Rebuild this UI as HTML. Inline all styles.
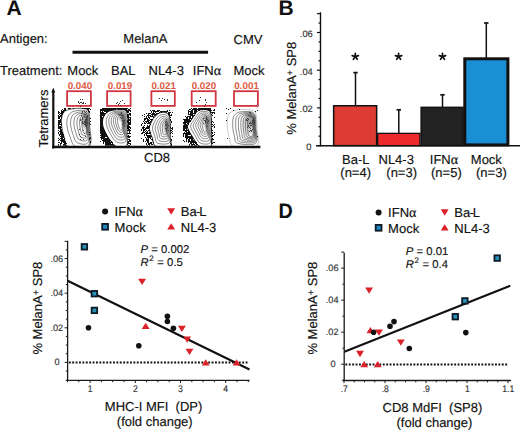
<!DOCTYPE html>
<html><head><meta charset="utf-8"><style>
html,body{margin:0;padding:0;background:#fff;width:520px;height:430px;overflow:hidden}
svg{display:block;font-family:"Liberation Sans", sans-serif;text-rendering:geometricPrecision}
</style></head><body>
<svg width="520" height="430" viewBox="0 0 520 430">
<defs><radialGradient id="rg"><stop offset="0" stop-color="#222" stop-opacity="1"/><stop offset="0.6" stop-color="#444" stop-opacity="0.6"/><stop offset="1" stop-color="#666" stop-opacity="0"/></radialGradient></defs>
<rect width="520" height="430" fill="#fff"/>
<text x="6.4" y="14.5" font-size="21" text-anchor="start" font-weight="bold" fill="#111" >A</text>
<text x="278.6" y="14.5" font-size="21" text-anchor="start" font-weight="bold" fill="#111" >B</text>
<text transform="translate(6.6,217.7) scale(0.94,1)" font-size="21" font-weight="bold" fill="#111">C</text>
<text transform="translate(278.6,217.5) scale(0.94,1)" font-size="21" font-weight="bold" fill="#111">D</text>
<text x="0" y="42.9" font-size="13" text-anchor="start" font-weight="normal" fill="#111" stroke="#111" stroke-width="0.15">Antigen:</text>
<text x="123.3" y="43.3" font-size="13" text-anchor="start" font-weight="normal" fill="#111" stroke="#111" stroke-width="0.15">MelanA</text>
<text x="233.5" y="43.8" font-size="13" text-anchor="start" font-weight="normal" fill="#111" stroke="#111" stroke-width="0.15">CMV</text>
<line x1="72.5" y1="52.2" x2="208.1" y2="52.2" stroke="#111" stroke-width="3" />
<text x="0" y="74.8" font-size="13" text-anchor="start" font-weight="normal" fill="#111" stroke="#111" stroke-width="0.15">Treatment:</text>
<text x="67.3" y="74.6" font-size="13" text-anchor="start" font-weight="normal" fill="#111" stroke="#111" stroke-width="0.15">Mock</text>
<text x="111" y="74.6" font-size="13" text-anchor="start" font-weight="normal" fill="#111" stroke="#111" stroke-width="0.15">BAL</text>
<text x="148.5" y="74.6" font-size="13" text-anchor="start" font-weight="normal" fill="#111" stroke="#111" stroke-width="0.15">NL4-3</text>
<text x="192.8" y="74.6" font-size="13" text-anchor="start" font-weight="normal" fill="#111" stroke="#111" stroke-width="0.15">IFN<tspan font-family="Liberation Serif" font-size="14">&#945;</tspan></text>
<text x="233.5" y="74.6" font-size="13" text-anchor="start" font-weight="normal" fill="#111" stroke="#111" stroke-width="0.15">Mock</text>
<text x="79.9" y="89.0" font-size="9.8" text-anchor="middle" font-weight="bold" fill="#dc5a42" >0.040</text>
<rect x="67.10000000000001" y="91.2" width="23.799999999999994" height="14.7" fill="none" stroke="#d03640" stroke-width="1.8"/>
<text x="120" y="89.0" font-size="9.8" text-anchor="middle" font-weight="bold" fill="#dc5a42" >0.019</text>
<rect x="107.10000000000001" y="91.2" width="23.499999999999996" height="14.7" fill="none" stroke="#d03640" stroke-width="1.8"/>
<text x="163.7" y="89.0" font-size="9.8" text-anchor="middle" font-weight="bold" fill="#dc5a42" >0.021</text>
<rect x="151.4" y="91.2" width="23.399999999999988" height="14.7" fill="none" stroke="#d03640" stroke-width="1.8"/>
<text x="203.9" y="89.0" font-size="9.8" text-anchor="middle" font-weight="bold" fill="#dc5a42" >0.020</text>
<rect x="191.70000000000002" y="91.2" width="23.999999999999982" height="14.7" fill="none" stroke="#d03640" stroke-width="1.8"/>
<text x="246.6" y="89.0" font-size="9.8" text-anchor="middle" font-weight="bold" fill="#dc5a42" >0.001</text>
<rect x="234.0" y="91.2" width="23.900000000000016" height="14.7" fill="none" stroke="#d03640" stroke-width="1.8"/>
<clipPath id="cp11"><rect x="56.5" y="106.3" width="36.0" height="39.500000000000014"/></clipPath><g clip-path="url(#cp11)">
<path d="M67.50,146.00C63.37,144.67 65.37,140.67 64.50,138.00C63.63,135.33 62.82,132.67 62.30,130.00C61.78,127.33 61.45,124.33 61.40,122.00C61.35,119.67 61.57,117.67 62.00,116.00C62.43,114.33 63.03,113.03 64.00,112.00C64.97,110.97 66.30,110.33 67.80,109.80C69.30,109.27 70.97,109.05 73.00,108.80C75.03,108.55 78.00,108.30 80.00,108.30C82.00,108.30 83.67,108.43 85.00,108.80C86.33,109.17 87.28,109.47 88.00,110.50C88.72,111.53 89.05,112.58 89.30,115.00C89.55,117.42 89.50,119.83 89.50,125.00C89.50,130.17 92.97,142.50 89.30,146.00C85.63,149.50 71.63,147.33 67.50,146.00Z" fill="#fff" stroke="#333" stroke-width="0.8"/><path d="M75.00,146.00C72.00,144.67 71.75,140.83 70.50,138.00C69.25,135.17 68.12,131.67 67.50,129.00C66.88,126.33 66.68,124.17 66.80,122.00C66.92,119.83 67.42,117.62 68.20,116.00C68.98,114.38 70.03,113.20 71.50,112.30C72.97,111.40 75.08,110.92 77.00,110.60C78.92,110.28 81.33,110.23 83.00,110.40C84.67,110.57 86.08,110.83 87.00,111.60C87.92,112.37 88.20,112.77 88.50,115.00C88.80,117.23 88.80,119.83 88.80,125.00C88.80,130.17 90.80,142.50 88.50,146.00C86.20,149.50 78.00,147.33 75.00,146.00Z" fill="none" stroke="#2a2a2a" stroke-width="0.55"/><path d="M77.10,142.64C74.70,141.49 74.50,138.20 73.50,135.76C72.50,133.32 71.59,130.31 71.10,128.02C70.61,125.73 70.45,123.86 70.54,122.00C70.63,120.14 71.03,118.23 71.66,116.84C72.29,115.45 73.13,114.43 74.30,113.66C75.47,112.88 77.17,112.47 78.70,112.20C80.23,111.92 82.17,111.88 83.50,112.02C84.83,112.17 85.97,112.40 86.70,113.06C87.43,113.72 87.66,114.06 87.90,115.98C88.14,117.90 88.14,120.14 88.14,124.58C88.14,129.02 89.74,139.63 87.90,142.64C86.06,145.65 79.50,143.79 77.10,142.64Z" fill="none" stroke="#2a2a2a" stroke-width="0.55"/><path d="M78.99,139.62C77.13,138.64 76.97,135.82 76.20,133.74C75.43,131.66 74.72,129.10 74.34,127.14C73.96,125.18 73.83,123.59 73.91,122.00C73.98,120.41 74.29,118.78 74.77,117.60C75.26,116.41 75.91,115.54 76.82,114.88C77.73,114.22 79.04,113.86 80.23,113.63C81.42,113.40 82.92,113.36 83.95,113.49C84.98,113.61 85.86,113.80 86.43,114.37C87.00,114.93 87.17,115.22 87.36,116.86C87.55,118.50 87.55,120.41 87.55,124.20C87.55,127.99 88.79,137.05 87.36,139.62C85.93,142.18 80.85,140.59 78.99,139.62Z" fill="none" stroke="#2a2a2a" stroke-width="0.55"/><path d="M80.67,136.93C79.29,136.10 79.17,133.71 78.60,131.95C78.02,130.19 77.50,128.01 77.22,126.35C76.94,124.70 76.84,123.35 76.90,122.00C76.95,120.65 77.18,119.27 77.54,118.27C77.90,117.26 78.39,116.53 79.06,115.97C79.73,115.41 80.71,115.11 81.59,114.91C82.47,114.71 83.58,114.68 84.35,114.78C85.12,114.89 85.77,115.05 86.19,115.53C86.61,116.01 86.74,116.26 86.88,117.65C87.02,119.04 87.02,120.65 87.02,123.87C87.02,127.08 87.94,134.75 86.88,136.93C85.82,139.10 82.05,137.76 80.67,136.93Z" fill="none" stroke="#2a2a2a" stroke-width="0.55"/><path d="M82.14,134.58C81.18,133.88 81.10,131.87 80.70,130.38C80.30,128.90 79.94,127.07 79.74,125.67C79.54,124.27 79.48,123.14 79.52,122.00C79.55,120.86 79.71,119.70 79.96,118.86C80.21,118.01 80.55,117.39 81.02,116.92C81.49,116.45 82.17,116.19 82.78,116.03C83.39,115.86 84.17,115.83 84.70,115.92C85.23,116.01 85.69,116.15 85.98,116.55C86.27,116.95 86.36,117.16 86.46,118.33C86.56,119.50 86.56,120.86 86.56,123.57C86.56,126.28 87.20,132.74 86.46,134.58C85.72,136.41 83.10,135.27 82.14,134.58Z" fill="none" stroke="#2a2a2a" stroke-width="0.55"/><path d="M83.40,132.56C82.80,131.97 82.75,130.29 82.50,129.04C82.25,127.79 82.02,126.25 81.90,125.08C81.78,123.91 81.74,122.95 81.76,122.00C81.78,121.05 81.88,120.07 82.04,119.36C82.20,118.65 82.41,118.13 82.70,117.73C82.99,117.34 83.42,117.12 83.80,116.98C84.18,116.84 84.67,116.82 85.00,116.90C85.33,116.97 85.62,117.09 85.80,117.42C85.98,117.76 86.04,117.94 86.10,118.92C86.16,119.90 86.16,121.05 86.16,123.32C86.16,125.59 86.56,131.02 86.10,132.56C85.64,134.10 84.00,133.15 83.40,132.56Z" fill="none" stroke="#2a2a2a" stroke-width="0.55"/><ellipse cx="85" cy="121" rx="4.5" ry="10" fill="url(#rg)" opacity="0.55"/><ellipse cx="86" cy="124" rx="2" ry="3.5" fill="url(#rg)" opacity="0.9"/>
<path d="M64,108h1v1h-1zM65,108h1v1h-1zM68,108h1v1h-1zM69,108h1v1h-1zM70,108h1v1h-1zM73,108h1v1h-1zM82,108h1v1h-1zM83,108h1v1h-1zM84,108h1v1h-1zM85,108h1v1h-1zM86,108h1v1h-1zM87,108h1v1h-1zM88,108h1v1h-1zM89,108h1v1h-1zM62,109h1v1h-1zM64,109h1v1h-1zM65,109h1v1h-1zM87,109h1v1h-1zM88,109h1v1h-1zM90,109h1v1h-1zM61,110h1v1h-1zM63,110h1v1h-1zM64,110h1v1h-1zM65,110h1v1h-1zM88,110h1v1h-1zM58,111h1v1h-1zM61,111h1v1h-1zM62,111h1v1h-1zM63,111h1v1h-1zM88,111h1v1h-1zM89,111h1v1h-1zM58,112h1v1h-1zM59,112h1v1h-1zM61,112h1v1h-1zM62,112h1v1h-1zM63,112h1v1h-1zM89,112h1v1h-1zM58,113h1v1h-1zM60,113h1v1h-1zM61,113h1v1h-1zM62,113h1v1h-1zM59,114h1v1h-1zM61,114h1v1h-1zM62,114h1v1h-1zM58,115h1v1h-1zM60,115h1v1h-1zM61,115h1v1h-1zM58,116h1v1h-1zM59,116h1v1h-1zM60,116h1v1h-1zM61,116h1v1h-1zM58,117h1v1h-1zM59,117h1v1h-1zM61,117h1v1h-1zM58,118h1v1h-1zM59,118h1v1h-1zM61,118h1v1h-1zM90,118h1v1h-1zM60,119h1v1h-1zM58,120h1v1h-1zM59,120h1v1h-1zM60,120h1v1h-1zM58,121h1v1h-1zM59,121h1v1h-1zM60,121h1v1h-1zM90,121h1v1h-1zM58,122h1v1h-1zM59,122h1v1h-1zM60,122h1v1h-1zM58,123h1v1h-1zM59,123h1v1h-1zM61,123h1v1h-1zM89,123h1v1h-1zM58,124h1v1h-1zM59,124h1v1h-1zM60,124h1v1h-1zM61,124h1v1h-1zM90,124h1v1h-1zM58,125h1v1h-1zM61,125h1v1h-1zM58,126h1v1h-1zM59,126h1v1h-1zM60,126h1v1h-1zM58,127h1v1h-1zM59,127h1v1h-1zM60,127h1v1h-1zM61,127h1v1h-1zM58,128h1v1h-1zM59,128h1v1h-1zM60,128h1v1h-1zM60,129h1v1h-1zM61,129h1v1h-1zM58,130h1v1h-1zM60,130h1v1h-1zM61,130h1v1h-1zM59,131h1v1h-1zM60,131h1v1h-1zM61,131h1v1h-1zM58,132h1v1h-1zM60,132h1v1h-1zM61,132h1v1h-1zM62,132h1v1h-1zM89,132h1v1h-1zM58,133h1v1h-1zM60,133h1v1h-1zM61,133h1v1h-1zM62,133h1v1h-1zM59,134h1v1h-1zM60,134h1v1h-1zM61,134h1v1h-1zM62,134h1v1h-1zM63,134h1v1h-1zM89,134h1v1h-1zM59,135h1v1h-1zM61,135h1v1h-1zM62,135h1v1h-1zM63,135h1v1h-1zM60,136h1v1h-1zM61,136h1v1h-1zM62,136h1v1h-1zM63,136h1v1h-1zM61,137h1v1h-1zM62,137h1v1h-1zM63,137h1v1h-1zM90,137h1v1h-1zM58,138h1v1h-1zM60,138h1v1h-1zM61,138h1v1h-1zM62,138h1v1h-1zM64,138h1v1h-1zM89,138h1v1h-1zM90,138h1v1h-1zM59,139h1v1h-1zM61,139h1v1h-1zM62,139h1v1h-1zM63,139h1v1h-1zM64,139h1v1h-1zM89,139h1v1h-1zM58,140h1v1h-1zM60,140h1v1h-1zM61,140h1v1h-1zM62,140h1v1h-1zM63,140h1v1h-1zM64,140h1v1h-1zM61,141h1v1h-1zM62,141h1v1h-1zM63,141h1v1h-1zM64,141h1v1h-1zM65,141h1v1h-1zM90,141h1v1h-1zM58,142h1v1h-1zM59,142h1v1h-1zM61,142h1v1h-1zM63,142h1v1h-1zM64,142h1v1h-1zM65,142h1v1h-1zM90,142h1v1h-1zM60,143h1v1h-1zM61,143h1v1h-1zM64,143h1v1h-1zM65,143h1v1h-1zM66,143h1v1h-1zM58,144h1v1h-1zM60,144h1v1h-1zM63,144h1v1h-1zM64,144h1v1h-1zM65,144h1v1h-1zM58,145h1v1h-1zM60,145h1v1h-1zM63,145h1v1h-1zM64,145h1v1h-1zM65,145h1v1h-1zM66,145h1v1h-1z" fill="#111"/>
<path d="M82,111h1v1h-1zM84,111h1v1h-1zM82,112h1v1h-1zM85,112h1v1h-1zM81,113h1v1h-1zM84,114h1v1h-1zM85,114h1v1h-1zM81,115h1v1h-1zM84,116h1v1h-1zM82,117h1v1h-1zM86,117h1v1h-1zM82,118h1v1h-1zM80,119h1v1h-1zM82,119h1v1h-1zM85,119h1v1h-1zM80,120h1v1h-1zM85,120h1v1h-1zM86,120h1v1h-1zM82,121h1v1h-1zM84,121h1v1h-1zM85,121h1v1h-1zM82,122h1v1h-1zM84,122h1v1h-1zM86,122h1v1h-1zM82,123h1v1h-1zM83,123h1v1h-1zM84,124h1v1h-1zM85,124h1v1h-1zM85,121h1v1h-1zM86,121h1v1h-1zM85,122h1v1h-1zM85,123h1v1h-1zM86,123h1v1h-1zM84,124h1v1h-1zM85,124h1v1h-1zM86,124h1v1h-1zM85,125h1v1h-1zM86,125h1v1h-1zM86,126h1v1h-1zM86,111h1v1h-1zM86,113h1v1h-1zM87,115h1v1h-1zM86,116h1v1h-1zM87,116h1v1h-1zM86,117h1v1h-1zM87,117h1v1h-1zM86,118h1v1h-1zM86,119h1v1h-1zM87,119h1v1h-1zM86,120h1v1h-1zM86,122h1v1h-1zM87,122h1v1h-1zM79,129h1v1h-1zM83,130h1v1h-1zM84,133h1v1h-1zM79,134h1v1h-1zM80,136h1v1h-1zM85,136h1v1h-1zM81,137h1v1h-1zM80,139h1v1h-1zM83,139h1v1h-1z" fill="#444"/>
</g>
<path d="M78,101h1v1h-1zM82,99h1v1h-1zM80,99h1v1h-1zM83,103h1v1h-1zM83,102h1v1h-1zM81,102h1v1h-1zM79,103h1v1h-1zM78,102h1v1h-1zM82,103h1v1h-1zM80,106h1v1h-1zM81,102h1v1h-1zM81,102h1v1h-1zM80,102h1v1h-1zM85,103h1v1h-1z" fill="#333"/>
<clipPath id="cp12"><rect x="98.2" y="106.3" width="34.10000000000001" height="39.500000000000014"/></clipPath><g clip-path="url(#cp12)">
<path d="M115.50,146.00C112.42,144.50 110.00,140.00 108.00,137.00C106.00,134.00 104.42,130.50 103.50,128.00C102.58,125.50 102.50,123.83 102.50,122.00C102.50,120.17 102.75,118.58 103.50,117.00C104.25,115.42 105.58,113.62 107.00,112.50C108.42,111.38 109.83,110.78 112.00,110.30C114.17,109.82 117.83,109.65 120.00,109.60C122.17,109.55 123.87,109.60 125.00,110.00C126.13,110.40 126.43,110.33 126.80,112.00C127.17,113.67 127.17,116.17 127.20,120.00C127.23,123.83 127.12,130.67 127.00,135.00C126.88,139.33 128.42,144.17 126.50,146.00C124.58,147.83 118.58,147.50 115.50,146.00Z" fill="#fff" stroke="#222" stroke-width="1.0"/><path d="M116.60,141.95C114.13,140.67 112.20,136.85 110.60,134.30C109.00,131.75 107.73,128.78 107.00,126.65C106.27,124.53 106.20,123.11 106.20,121.55C106.20,119.99 106.40,118.65 107.00,117.30C107.60,115.95 108.67,114.42 109.80,113.47C110.93,112.53 112.07,112.02 113.80,111.60C115.53,111.19 118.47,111.05 120.20,111.01C121.93,110.97 123.29,111.01 124.20,111.35C125.11,111.69 125.35,111.63 125.64,113.05C125.93,114.47 125.93,116.59 125.96,119.85C125.99,123.11 125.89,128.92 125.80,132.60C125.71,136.28 126.93,140.39 125.40,141.95C123.87,143.51 119.07,143.22 116.60,141.95Z" fill="none" stroke="#2a2a2a" stroke-width="0.55"/><path d="M117.37,139.12C115.34,138.00 113.74,134.65 112.42,132.41C111.10,130.17 110.06,127.57 109.45,125.70C108.84,123.84 108.79,122.60 108.79,121.23C108.79,119.87 108.95,118.69 109.45,117.51C109.95,116.33 110.83,114.99 111.76,114.16C112.70,113.33 113.63,112.88 115.06,112.52C116.49,112.16 118.91,112.03 120.34,112.00C121.77,111.96 122.89,112.00 123.64,112.30C124.39,112.59 124.59,112.54 124.83,113.78C125.07,115.03 125.07,116.89 125.09,119.75C125.11,122.60 125.04,127.69 124.96,130.92C124.88,134.15 125.89,137.75 124.63,139.12C123.36,140.48 119.41,140.23 117.37,139.12Z" fill="none" stroke="#2a2a2a" stroke-width="0.55"/><path d="M118.08,136.48C116.45,135.51 115.17,132.60 114.11,130.66C113.05,128.71 112.21,126.45 111.72,124.83C111.24,123.21 111.19,122.13 111.19,120.94C111.19,119.76 111.33,118.73 111.72,117.70C112.12,116.68 112.83,115.51 113.58,114.79C114.33,114.07 115.08,113.68 116.23,113.37C117.38,113.05 119.32,112.95 120.47,112.91C121.62,112.88 122.52,112.91 123.12,113.17C123.72,113.43 123.88,113.39 124.07,114.47C124.27,115.55 124.27,117.17 124.29,119.65C124.30,122.13 124.24,126.55 124.18,129.36C124.12,132.17 124.93,135.30 123.92,136.48C122.90,137.67 119.72,137.45 118.08,136.48Z" fill="none" stroke="#2a2a2a" stroke-width="0.55"/><path d="M118.75,134.05C117.48,133.22 116.49,130.71 115.67,129.03C114.85,127.36 114.20,125.41 113.83,124.02C113.45,122.62 113.42,121.69 113.42,120.67C113.42,119.65 113.52,118.77 113.83,117.89C114.13,117.00 114.68,116.00 115.26,115.38C115.84,114.75 116.42,114.42 117.31,114.15C118.20,113.88 119.70,113.79 120.59,113.76C121.48,113.73 122.18,113.76 122.64,113.98C123.10,114.21 123.23,114.17 123.38,115.10C123.53,116.03 123.53,117.42 123.54,119.56C123.56,121.69 123.51,125.50 123.46,127.92C123.41,130.34 124.04,133.03 123.25,134.05C122.47,135.07 120.01,134.89 118.75,134.05Z" fill="none" stroke="#2a2a2a" stroke-width="0.55"/><path d="M119.35,131.82C118.42,131.11 117.70,128.97 117.10,127.55C116.50,126.12 116.03,124.46 115.75,123.28C115.47,122.09 115.45,121.30 115.45,120.42C115.45,119.55 115.53,118.80 115.75,118.05C115.97,117.30 116.38,116.44 116.80,115.91C117.22,115.38 117.65,115.10 118.30,114.87C118.95,114.64 120.05,114.56 120.70,114.53C121.35,114.51 121.86,114.53 122.20,114.72C122.54,114.91 122.63,114.88 122.74,115.67C122.85,116.47 122.85,117.65 122.86,119.47C122.87,121.30 122.83,124.54 122.80,126.60C122.77,128.66 123.23,130.95 122.65,131.82C122.08,132.70 120.27,132.54 119.35,131.82Z" fill="none" stroke="#2a2a2a" stroke-width="0.55"/><path d="M119.95,129.60C119.37,129.01 118.91,127.24 118.53,126.06C118.15,124.89 117.85,123.51 117.67,122.53C117.50,121.55 117.48,120.90 117.48,120.18C117.48,119.46 117.53,118.84 117.67,118.22C117.82,117.59 118.07,116.89 118.34,116.45C118.61,116.01 118.88,115.77 119.29,115.59C119.70,115.40 120.40,115.33 120.81,115.31C121.22,115.29 121.54,115.31 121.76,115.47C121.98,115.62 122.03,115.60 122.10,116.25C122.17,116.91 122.17,117.89 122.18,119.39C122.18,120.90 122.16,123.58 122.14,125.28C122.12,126.98 122.41,128.88 122.05,129.60C121.68,130.32 120.54,130.19 119.95,129.60Z" fill="none" stroke="#2a2a2a" stroke-width="0.55"/><ellipse cx="121.5" cy="117" rx="4" ry="6" fill="url(#rg)" opacity="0.5"/><ellipse cx="124.5" cy="122" rx="2.5" ry="6" fill="url(#rg)" opacity="0.5"/>
<path d="M102,108h1v1h-1zM103,108h1v1h-1zM104,108h1v1h-1zM105,108h1v1h-1zM106,108h1v1h-1zM107,108h1v1h-1zM108,108h1v1h-1zM109,108h1v1h-1zM110,108h1v1h-1zM111,108h1v1h-1zM112,108h1v1h-1zM113,108h1v1h-1zM114,108h1v1h-1zM115,108h1v1h-1zM116,108h1v1h-1zM117,108h1v1h-1zM118,108h1v1h-1zM119,108h1v1h-1zM120,108h1v1h-1zM121,108h1v1h-1zM122,108h1v1h-1zM123,108h1v1h-1zM124,108h1v1h-1zM125,108h1v1h-1zM126,108h1v1h-1zM127,108h1v1h-1zM130,108h1v1h-1zM100,109h1v1h-1zM101,109h1v1h-1zM102,109h1v1h-1zM103,109h1v1h-1zM104,109h1v1h-1zM105,109h1v1h-1zM106,109h1v1h-1zM107,109h1v1h-1zM108,109h1v1h-1zM109,109h1v1h-1zM110,109h1v1h-1zM111,109h1v1h-1zM112,109h1v1h-1zM113,109h1v1h-1zM114,109h1v1h-1zM115,109h1v1h-1zM118,109h1v1h-1zM119,109h1v1h-1zM120,109h1v1h-1zM121,109h1v1h-1zM122,109h1v1h-1zM123,109h1v1h-1zM124,109h1v1h-1zM125,109h1v1h-1zM126,109h1v1h-1zM128,109h1v1h-1zM129,109h1v1h-1zM100,110h1v1h-1zM101,110h1v1h-1zM102,110h1v1h-1zM103,110h1v1h-1zM104,110h1v1h-1zM105,110h1v1h-1zM106,110h1v1h-1zM107,110h1v1h-1zM108,110h1v1h-1zM109,110h1v1h-1zM110,110h1v1h-1zM111,110h1v1h-1zM125,110h1v1h-1zM126,110h1v1h-1zM127,110h1v1h-1zM128,110h1v1h-1zM129,110h1v1h-1zM130,110h1v1h-1zM100,111h1v1h-1zM102,111h1v1h-1zM104,111h1v1h-1zM105,111h1v1h-1zM106,111h1v1h-1zM107,111h1v1h-1zM108,111h1v1h-1zM126,111h1v1h-1zM127,111h1v1h-1zM128,111h1v1h-1zM130,111h1v1h-1zM100,112h1v1h-1zM101,112h1v1h-1zM102,112h1v1h-1zM103,112h1v1h-1zM106,112h1v1h-1zM127,112h1v1h-1zM128,112h1v1h-1zM100,113h1v1h-1zM101,113h1v1h-1zM102,113h1v1h-1zM103,113h1v1h-1zM104,113h1v1h-1zM105,113h1v1h-1zM129,113h1v1h-1zM130,113h1v1h-1zM100,114h1v1h-1zM101,114h1v1h-1zM102,114h1v1h-1zM103,114h1v1h-1zM104,114h1v1h-1zM127,114h1v1h-1zM128,114h1v1h-1zM129,114h1v1h-1zM130,114h1v1h-1zM100,115h1v1h-1zM101,115h1v1h-1zM102,115h1v1h-1zM103,115h1v1h-1zM104,115h1v1h-1zM127,115h1v1h-1zM128,115h1v1h-1zM130,115h1v1h-1zM100,116h1v1h-1zM101,116h1v1h-1zM103,116h1v1h-1zM127,116h1v1h-1zM128,116h1v1h-1zM100,117h1v1h-1zM101,117h1v1h-1zM102,117h1v1h-1zM127,117h1v1h-1zM128,117h1v1h-1zM129,117h1v1h-1zM130,117h1v1h-1zM100,118h1v1h-1zM101,118h1v1h-1zM102,118h1v1h-1zM128,118h1v1h-1zM130,118h1v1h-1zM100,119h1v1h-1zM101,119h1v1h-1zM102,119h1v1h-1zM128,119h1v1h-1zM129,119h1v1h-1zM130,119h1v1h-1zM100,120h1v1h-1zM101,120h1v1h-1zM102,120h1v1h-1zM127,120h1v1h-1zM128,120h1v1h-1zM129,120h1v1h-1zM130,120h1v1h-1zM100,121h1v1h-1zM101,121h1v1h-1zM102,121h1v1h-1zM127,121h1v1h-1zM128,121h1v1h-1zM130,121h1v1h-1zM100,122h1v1h-1zM101,122h1v1h-1zM102,122h1v1h-1zM127,122h1v1h-1zM128,122h1v1h-1zM129,122h1v1h-1zM130,122h1v1h-1zM100,123h1v1h-1zM101,123h1v1h-1zM102,123h1v1h-1zM128,123h1v1h-1zM129,123h1v1h-1zM130,123h1v1h-1zM100,124h1v1h-1zM101,124h1v1h-1zM102,124h1v1h-1zM128,124h1v1h-1zM129,124h1v1h-1zM130,124h1v1h-1zM100,125h1v1h-1zM101,125h1v1h-1zM102,125h1v1h-1zM127,125h1v1h-1zM128,125h1v1h-1zM100,126h1v1h-1zM101,126h1v1h-1zM102,126h1v1h-1zM127,126h1v1h-1zM128,126h1v1h-1zM129,126h1v1h-1zM100,127h1v1h-1zM101,127h1v1h-1zM102,127h1v1h-1zM127,127h1v1h-1zM128,127h1v1h-1zM129,127h1v1h-1zM130,127h1v1h-1zM100,128h1v1h-1zM101,128h1v1h-1zM102,128h1v1h-1zM103,128h1v1h-1zM127,128h1v1h-1zM128,128h1v1h-1zM130,128h1v1h-1zM100,129h1v1h-1zM101,129h1v1h-1zM102,129h1v1h-1zM103,129h1v1h-1zM128,129h1v1h-1zM129,129h1v1h-1zM100,130h1v1h-1zM101,130h1v1h-1zM102,130h1v1h-1zM103,130h1v1h-1zM104,130h1v1h-1zM127,130h1v1h-1zM128,130h1v1h-1zM129,130h1v1h-1zM130,130h1v1h-1zM100,131h1v1h-1zM101,131h1v1h-1zM102,131h1v1h-1zM103,131h1v1h-1zM104,131h1v1h-1zM129,131h1v1h-1zM100,132h1v1h-1zM101,132h1v1h-1zM102,132h1v1h-1zM103,132h1v1h-1zM104,132h1v1h-1zM105,132h1v1h-1zM129,132h1v1h-1zM100,133h1v1h-1zM101,133h1v1h-1zM102,133h1v1h-1zM103,133h1v1h-1zM104,133h1v1h-1zM105,133h1v1h-1zM127,133h1v1h-1zM128,133h1v1h-1zM129,133h1v1h-1zM130,133h1v1h-1zM101,134h1v1h-1zM102,134h1v1h-1zM103,134h1v1h-1zM104,134h1v1h-1zM105,134h1v1h-1zM106,134h1v1h-1zM100,135h1v1h-1zM101,135h1v1h-1zM102,135h1v1h-1zM103,135h1v1h-1zM104,135h1v1h-1zM105,135h1v1h-1zM106,135h1v1h-1zM128,135h1v1h-1zM101,136h1v1h-1zM102,136h1v1h-1zM103,136h1v1h-1zM104,136h1v1h-1zM105,136h1v1h-1zM106,136h1v1h-1zM107,136h1v1h-1zM127,136h1v1h-1zM128,136h1v1h-1zM129,136h1v1h-1zM130,136h1v1h-1zM100,137h1v1h-1zM101,137h1v1h-1zM102,137h1v1h-1zM103,137h1v1h-1zM104,137h1v1h-1zM107,137h1v1h-1zM128,137h1v1h-1zM129,137h1v1h-1zM101,138h1v1h-1zM102,138h1v1h-1zM103,138h1v1h-1zM104,138h1v1h-1zM105,138h1v1h-1zM106,138h1v1h-1zM107,138h1v1h-1zM108,138h1v1h-1zM101,139h1v1h-1zM103,139h1v1h-1zM104,139h1v1h-1zM105,139h1v1h-1zM106,139h1v1h-1zM107,139h1v1h-1zM108,139h1v1h-1zM109,139h1v1h-1zM128,139h1v1h-1zM129,139h1v1h-1zM102,140h1v1h-1zM103,140h1v1h-1zM104,140h1v1h-1zM105,140h1v1h-1zM106,140h1v1h-1zM107,140h1v1h-1zM108,140h1v1h-1zM109,140h1v1h-1zM110,140h1v1h-1zM129,140h1v1h-1zM130,140h1v1h-1zM100,141h1v1h-1zM103,141h1v1h-1zM104,141h1v1h-1zM105,141h1v1h-1zM106,141h1v1h-1zM107,141h1v1h-1zM108,141h1v1h-1zM109,141h1v1h-1zM111,141h1v1h-1zM128,141h1v1h-1zM129,141h1v1h-1zM130,141h1v1h-1zM103,142h1v1h-1zM105,142h1v1h-1zM106,142h1v1h-1zM107,142h1v1h-1zM108,142h1v1h-1zM109,142h1v1h-1zM110,142h1v1h-1zM111,142h1v1h-1zM112,142h1v1h-1zM127,142h1v1h-1zM128,142h1v1h-1zM103,143h1v1h-1zM105,143h1v1h-1zM106,143h1v1h-1zM107,143h1v1h-1zM108,143h1v1h-1zM109,143h1v1h-1zM110,143h1v1h-1zM112,143h1v1h-1zM128,143h1v1h-1zM129,143h1v1h-1zM130,143h1v1h-1zM105,144h1v1h-1zM106,144h1v1h-1zM107,144h1v1h-1zM108,144h1v1h-1zM109,144h1v1h-1zM110,144h1v1h-1zM111,144h1v1h-1zM112,144h1v1h-1zM113,144h1v1h-1zM127,144h1v1h-1zM130,144h1v1h-1zM105,145h1v1h-1zM106,145h1v1h-1zM107,145h1v1h-1zM108,145h1v1h-1zM109,145h1v1h-1zM110,145h1v1h-1zM111,145h1v1h-1zM112,145h1v1h-1zM113,145h1v1h-1zM114,145h1v1h-1zM128,145h1v1h-1zM129,145h1v1h-1z" fill="#111"/>
<path d="M121,112h1v1h-1zM121,113h1v1h-1zM118,114h1v1h-1zM120,114h1v1h-1zM119,115h1v1h-1zM121,115h1v1h-1zM122,115h1v1h-1zM123,115h1v1h-1zM120,117h1v1h-1zM122,117h1v1h-1zM121,118h1v1h-1zM122,120h1v1h-1zM123,120h1v1h-1zM124,120h1v1h-1zM122,121h1v1h-1zM124,121h1v1h-1zM123,122h1v1h-1zM123,123h1v1h-1zM124,123h1v1h-1zM122,124h1v1h-1zM124,125h1v1h-1zM124,126h1v1h-1z" fill="#444"/>
</g>
<path d="M122,100h1v1h-1zM119,103h1v1h-1zM124,103h1v1h-1zM116,103h1v1h-1zM118,104h1v1h-1zM120,105h1v1h-1zM120,101h1v1h-1zM117,102h1v1h-1z" fill="#333"/>
<clipPath id="cp13"><rect x="139" y="108.3" width="35.5" height="37.500000000000014"/></clipPath><g clip-path="url(#cp13)">
<path d="M155.50,146.00C152.55,144.67 153.32,140.92 152.30,138.00C151.28,135.08 149.52,131.25 149.40,128.50C149.28,125.75 150.67,123.53 151.60,121.50C152.53,119.47 153.68,117.72 155.00,116.30C156.32,114.88 158.00,113.68 159.50,113.00C161.00,112.32 162.67,112.12 164.00,112.20C165.33,112.28 166.57,112.62 167.50,113.50C168.43,114.38 169.13,115.42 169.60,117.50C170.07,119.58 170.20,122.92 170.30,126.00C170.40,129.08 170.25,132.67 170.20,136.00C170.15,139.33 172.45,144.33 170.00,146.00C167.55,147.67 158.45,147.33 155.50,146.00Z" fill="#fff" stroke="#222" stroke-width="1.0"/><path d="M157.40,143.15C155.04,142.02 155.65,138.83 154.84,136.35C154.03,133.87 152.61,130.61 152.52,128.28C152.43,125.94 153.53,124.05 154.28,122.33C155.03,120.60 155.95,119.11 157.00,117.91C158.05,116.70 159.40,115.68 160.60,115.10C161.80,114.52 163.13,114.35 164.20,114.42C165.27,114.49 166.25,114.77 167.00,115.53C167.75,116.28 168.31,117.15 168.68,118.92C169.05,120.70 169.16,123.53 169.24,126.15C169.32,128.77 169.20,131.82 169.16,134.65C169.12,137.48 170.96,141.73 169.00,143.15C167.04,144.57 159.76,144.28 157.40,143.15Z" fill="none" stroke="#2a2a2a" stroke-width="0.55"/><path d="M159.01,140.73C157.16,139.76 157.64,137.05 157.00,134.95C156.36,132.84 155.25,130.07 155.17,128.08C155.10,126.10 155.97,124.50 156.56,123.03C157.15,121.56 157.87,120.29 158.70,119.27C159.53,118.25 160.59,117.38 161.53,116.89C162.48,116.39 163.53,116.25 164.37,116.31C165.21,116.37 165.99,116.61 166.57,117.25C167.16,117.88 167.60,118.63 167.90,120.14C168.19,121.64 168.28,124.05 168.34,126.28C168.40,128.51 168.31,131.09 168.28,133.50C168.24,135.91 169.69,139.52 168.15,140.73C166.61,141.93 160.87,141.69 159.01,140.73Z" fill="none" stroke="#2a2a2a" stroke-width="0.55"/><path d="M160.53,138.45C159.15,137.64 159.51,135.38 159.03,133.63C158.55,131.87 157.72,129.56 157.67,127.90C157.61,126.25 158.26,124.91 158.70,123.69C159.14,122.46 159.68,121.41 160.30,120.55C160.92,119.70 161.71,118.98 162.41,118.56C163.12,118.15 163.90,118.03 164.53,118.08C165.16,118.13 165.74,118.33 166.18,118.87C166.61,119.40 166.94,120.02 167.16,121.28C167.38,122.53 167.44,124.54 167.49,126.40C167.54,128.26 167.47,130.41 167.44,132.42C167.42,134.43 168.50,137.44 167.35,138.45C166.20,139.45 161.92,139.25 160.53,138.45Z" fill="none" stroke="#2a2a2a" stroke-width="0.55"/><path d="M161.96,136.31C161.02,135.66 161.26,133.82 160.94,132.39C160.61,130.96 160.05,129.08 160.01,127.73C159.97,126.39 160.41,125.30 160.71,124.31C161.01,123.31 161.38,122.45 161.80,121.76C162.22,121.06 162.76,120.47 163.24,120.14C163.72,119.81 164.25,119.71 164.68,119.75C165.11,119.79 165.50,119.95 165.80,120.39C166.10,120.82 166.32,121.32 166.47,122.34C166.62,123.37 166.66,125.00 166.70,126.51C166.73,128.02 166.68,129.78 166.66,131.41C166.65,133.04 167.38,135.49 166.60,136.31C165.82,137.13 162.90,136.96 161.96,136.31Z" fill="none" stroke="#2a2a2a" stroke-width="0.55"/><path d="M163.29,134.31C162.76,133.80 162.90,132.36 162.71,131.24C162.53,130.11 162.21,128.64 162.19,127.58C162.17,126.52 162.42,125.67 162.59,124.88C162.76,124.10 162.96,123.43 163.20,122.88C163.44,122.34 163.74,121.87 164.01,121.61C164.28,121.35 164.58,121.27 164.82,121.30C165.06,121.33 165.28,121.46 165.45,121.80C165.62,122.14 165.74,122.54 165.83,123.34C165.91,124.14 165.94,125.43 165.95,126.61C165.97,127.80 165.94,129.18 165.94,130.47C165.93,131.75 166.34,133.67 165.90,134.31C165.46,134.96 163.82,134.83 163.29,134.31Z" fill="none" stroke="#2a2a2a" stroke-width="0.55"/><ellipse cx="166" cy="126" rx="4" ry="9" fill="url(#rg)" opacity="0.4"/>
<path d="M150,110h1v1h-1zM152,110h1v1h-1zM153,110h1v1h-1zM154,110h1v1h-1zM157,110h1v1h-1zM158,110h1v1h-1zM159,110h1v1h-1zM167,110h1v1h-1zM169,110h1v1h-1zM151,111h1v1h-1zM153,111h1v1h-1zM154,111h1v1h-1zM155,111h1v1h-1zM156,111h1v1h-1zM157,111h1v1h-1zM158,111h1v1h-1zM160,111h1v1h-1zM161,111h1v1h-1zM162,111h1v1h-1zM163,111h1v1h-1zM164,111h1v1h-1zM165,111h1v1h-1zM166,111h1v1h-1zM167,111h1v1h-1zM151,112h1v1h-1zM153,112h1v1h-1zM155,112h1v1h-1zM159,112h1v1h-1zM161,112h1v1h-1zM166,112h1v1h-1zM168,112h1v1h-1zM169,112h1v1h-1zM170,112h1v1h-1zM172,112h1v1h-1zM146,113h1v1h-1zM148,113h1v1h-1zM149,113h1v1h-1zM150,113h1v1h-1zM152,113h1v1h-1zM153,113h1v1h-1zM154,113h1v1h-1zM156,113h1v1h-1zM157,113h1v1h-1zM158,113h1v1h-1zM168,113h1v1h-1zM169,113h1v1h-1zM144,114h1v1h-1zM148,114h1v1h-1zM151,114h1v1h-1zM152,114h1v1h-1zM153,114h1v1h-1zM154,114h1v1h-1zM155,114h1v1h-1zM156,114h1v1h-1zM168,114h1v1h-1zM169,114h1v1h-1zM171,114h1v1h-1zM142,115h1v1h-1zM147,115h1v1h-1zM148,115h1v1h-1zM149,115h1v1h-1zM150,115h1v1h-1zM152,115h1v1h-1zM154,115h1v1h-1zM155,115h1v1h-1zM169,115h1v1h-1zM170,115h1v1h-1zM171,115h1v1h-1zM144,116h1v1h-1zM146,116h1v1h-1zM148,116h1v1h-1zM150,116h1v1h-1zM151,116h1v1h-1zM152,116h1v1h-1zM153,116h1v1h-1zM169,116h1v1h-1zM146,117h1v1h-1zM148,117h1v1h-1zM149,117h1v1h-1zM153,117h1v1h-1zM170,117h1v1h-1zM144,118h1v1h-1zM145,118h1v1h-1zM146,118h1v1h-1zM147,118h1v1h-1zM149,118h1v1h-1zM144,119h1v1h-1zM145,119h1v1h-1zM147,119h1v1h-1zM148,119h1v1h-1zM150,119h1v1h-1zM151,119h1v1h-1zM152,119h1v1h-1zM170,119h1v1h-1zM144,120h1v1h-1zM147,120h1v1h-1zM148,120h1v1h-1zM149,120h1v1h-1zM151,120h1v1h-1zM170,120h1v1h-1zM143,121h1v1h-1zM145,121h1v1h-1zM146,121h1v1h-1zM147,121h1v1h-1zM148,121h1v1h-1zM150,121h1v1h-1zM151,121h1v1h-1zM171,121h1v1h-1zM144,122h1v1h-1zM146,122h1v1h-1zM148,122h1v1h-1zM149,122h1v1h-1zM150,122h1v1h-1zM171,122h1v1h-1zM142,123h1v1h-1zM144,123h1v1h-1zM145,123h1v1h-1zM147,123h1v1h-1zM148,123h1v1h-1zM149,123h1v1h-1zM141,124h1v1h-1zM150,124h1v1h-1zM170,124h1v1h-1zM141,125h1v1h-1zM144,125h1v1h-1zM147,125h1v1h-1zM149,125h1v1h-1zM143,126h1v1h-1zM147,126h1v1h-1zM148,126h1v1h-1zM149,126h1v1h-1zM142,127h1v1h-1zM143,127h1v1h-1zM144,127h1v1h-1zM146,127h1v1h-1zM147,127h1v1h-1zM148,127h1v1h-1zM149,127h1v1h-1zM170,127h1v1h-1zM172,127h1v1h-1zM142,128h1v1h-1zM143,128h1v1h-1zM145,128h1v1h-1zM146,128h1v1h-1zM147,128h1v1h-1zM148,128h1v1h-1zM171,128h1v1h-1zM172,128h1v1h-1zM141,129h1v1h-1zM143,129h1v1h-1zM144,129h1v1h-1zM145,129h1v1h-1zM172,129h1v1h-1zM141,130h1v1h-1zM143,130h1v1h-1zM144,130h1v1h-1zM146,130h1v1h-1zM148,130h1v1h-1zM149,130h1v1h-1zM170,130h1v1h-1zM171,130h1v1h-1zM143,131h1v1h-1zM145,131h1v1h-1zM147,131h1v1h-1zM170,131h1v1h-1zM172,131h1v1h-1zM142,132h1v1h-1zM143,132h1v1h-1zM144,132h1v1h-1zM146,132h1v1h-1zM147,132h1v1h-1zM149,132h1v1h-1zM150,132h1v1h-1zM171,132h1v1h-1zM141,133h1v1h-1zM142,133h1v1h-1zM145,133h1v1h-1zM146,133h1v1h-1zM147,133h1v1h-1zM148,133h1v1h-1zM149,133h1v1h-1zM150,133h1v1h-1zM170,133h1v1h-1zM172,133h1v1h-1zM144,134h1v1h-1zM146,134h1v1h-1zM144,135h1v1h-1zM146,135h1v1h-1zM147,135h1v1h-1zM148,135h1v1h-1zM149,135h1v1h-1zM150,135h1v1h-1zM147,136h1v1h-1zM148,136h1v1h-1zM149,136h1v1h-1zM150,136h1v1h-1zM151,136h1v1h-1zM172,136h1v1h-1zM145,137h1v1h-1zM147,137h1v1h-1zM148,137h1v1h-1zM149,137h1v1h-1zM150,137h1v1h-1zM141,138h1v1h-1zM146,138h1v1h-1zM148,138h1v1h-1zM150,138h1v1h-1zM143,139h1v1h-1zM146,139h1v1h-1zM147,139h1v1h-1zM148,139h1v1h-1zM151,139h1v1h-1zM152,139h1v1h-1zM171,139h1v1h-1zM143,140h1v1h-1zM146,140h1v1h-1zM147,140h1v1h-1zM148,140h1v1h-1zM152,140h1v1h-1zM171,140h1v1h-1zM143,141h1v1h-1zM145,141h1v1h-1zM147,141h1v1h-1zM148,141h1v1h-1zM170,141h1v1h-1zM147,142h1v1h-1zM148,142h1v1h-1zM150,142h1v1h-1zM151,142h1v1h-1zM153,142h1v1h-1zM146,143h1v1h-1zM148,143h1v1h-1zM149,143h1v1h-1zM150,143h1v1h-1zM151,143h1v1h-1zM170,143h1v1h-1zM146,144h1v1h-1zM148,144h1v1h-1zM149,144h1v1h-1zM151,144h1v1h-1zM152,144h1v1h-1zM171,144h1v1h-1zM147,145h1v1h-1zM149,145h1v1h-1zM171,145h1v1h-1z" fill="#111"/>
<path d="M166,119h1v1h-1zM166,121h1v1h-1zM165,122h1v1h-1zM167,123h1v1h-1zM165,124h1v1h-1zM166,124h1v1h-1zM165,125h1v1h-1zM167,125h1v1h-1zM168,125h1v1h-1zM167,127h1v1h-1zM165,128h1v1h-1zM166,128h1v1h-1zM166,129h1v1h-1zM166,130h1v1h-1zM168,130h1v1h-1z" fill="#444"/>
</g>
<path d="M161,100h1v1h-1zM162,98h1v1h-1zM159,98h1v1h-1zM167,100h1v1h-1zM167,99h1v1h-1zM164,99h1v1h-1z" fill="#333"/>
<clipPath id="cp14"><rect x="181.3" y="106.3" width="34.89999999999998" height="39.500000000000014"/></clipPath><g clip-path="url(#cp14)">
<path d="M199.00,146.00C196.00,144.58 194.93,140.67 193.00,137.50C191.07,134.33 187.57,130.08 187.40,127.00C187.23,123.92 190.30,121.63 192.00,119.00C193.70,116.37 195.77,112.77 197.60,111.20C199.43,109.63 201.27,109.77 203.00,109.60C204.73,109.43 206.73,109.63 208.00,110.20C209.27,110.77 210.03,111.37 210.60,113.00C211.17,114.63 211.28,116.83 211.40,120.00C211.52,123.17 211.37,127.67 211.30,132.00C211.23,136.33 213.05,143.67 211.00,146.00C208.95,148.33 202.00,147.42 199.00,146.00Z" fill="#fff" stroke="#222" stroke-width="1.0"/><path d="M200.08,142.90C197.62,141.67 196.75,138.28 195.16,135.54C193.57,132.80 190.70,129.13 190.57,126.46C190.43,123.79 192.95,121.82 194.34,119.54C195.73,117.26 197.43,114.15 198.93,112.79C200.44,111.44 201.94,111.55 203.36,111.41C204.78,111.26 206.42,111.44 207.46,111.93C208.50,112.42 209.13,112.94 209.59,114.35C210.06,115.76 210.15,117.67 210.25,120.41C210.34,123.14 210.22,127.04 210.17,130.78C210.11,134.53 211.60,140.88 209.92,142.90C208.24,144.91 202.54,144.12 200.08,142.90Z" fill="none" stroke="#2a2a2a" stroke-width="0.55"/><path d="M200.98,140.31C198.97,139.24 198.26,136.29 196.96,133.91C195.66,131.53 193.32,128.33 193.21,126.01C193.10,123.69 195.15,121.97 196.29,119.99C197.43,118.01 198.81,115.30 200.04,114.12C201.27,112.94 202.50,113.04 203.66,112.92C204.82,112.79 206.16,112.94 207.01,113.37C207.86,113.79 208.37,114.25 208.75,115.47C209.13,116.70 209.21,118.36 209.29,120.74C209.37,123.13 209.27,126.51 209.22,129.77C209.18,133.03 210.39,138.55 209.02,140.31C207.65,142.06 202.99,141.37 200.98,140.31Z" fill="none" stroke="#2a2a2a" stroke-width="0.55"/><path d="M201.82,137.89C200.23,136.98 199.66,134.44 198.64,132.39C197.62,130.34 195.76,127.59 195.67,125.59C195.58,123.59 197.21,122.12 198.11,120.41C199.01,118.70 200.11,116.37 201.08,115.36C202.05,114.35 203.02,114.43 203.94,114.32C204.86,114.22 205.92,114.35 206.59,114.71C207.26,115.08 207.67,115.47 207.97,116.53C208.27,117.58 208.33,119.01 208.39,121.06C208.45,123.11 208.37,126.02 208.34,128.83C208.30,131.63 209.27,136.38 208.18,137.89C207.09,139.40 203.41,138.81 201.82,137.89Z" fill="none" stroke="#2a2a2a" stroke-width="0.55"/><path d="M202.60,135.65C201.40,134.87 200.97,132.72 200.20,130.97C199.43,129.23 198.03,126.90 197.96,125.20C197.89,123.50 199.12,122.25 199.80,120.80C200.48,119.35 201.31,117.37 202.04,116.51C202.77,115.65 203.51,115.72 204.20,115.63C204.89,115.54 205.69,115.65 206.20,115.96C206.71,116.27 207.01,116.60 207.24,117.50C207.47,118.40 207.51,119.61 207.56,121.35C207.61,123.09 207.55,125.57 207.52,127.95C207.49,130.33 208.22,134.37 207.40,135.65C206.58,136.93 203.80,136.43 202.60,135.65Z" fill="none" stroke="#2a2a2a" stroke-width="0.55"/><path d="M203.32,133.58C202.48,132.93 202.18,131.13 201.64,129.67C201.10,128.21 200.12,126.26 200.07,124.84C200.03,123.42 200.88,122.37 201.36,121.16C201.84,119.95 202.41,118.29 202.93,117.57C203.44,116.85 203.95,116.91 204.44,116.84C204.93,116.76 205.49,116.85 205.84,117.11C206.19,117.37 206.41,117.65 206.57,118.40C206.73,119.15 206.76,120.16 206.79,121.62C206.82,123.08 206.78,125.15 206.76,127.14C206.75,129.13 207.25,132.51 206.68,133.58C206.11,134.65 204.16,134.23 203.32,133.58Z" fill="none" stroke="#2a2a2a" stroke-width="0.55"/><path d="M203.98,131.68C203.47,131.15 203.29,129.67 202.96,128.47C202.63,127.28 202.04,125.67 202.01,124.51C201.98,123.35 202.50,122.48 202.79,121.49C203.08,120.50 203.43,119.14 203.74,118.55C204.05,117.95 204.37,118.00 204.66,117.94C204.95,117.88 205.29,117.95 205.51,118.17C205.73,118.38 205.86,118.61 205.95,119.22C206.05,119.84 206.07,120.67 206.09,121.87C206.11,123.06 206.08,124.76 206.07,126.40C206.06,128.03 206.37,130.80 206.02,131.68C205.67,132.56 204.49,132.22 203.98,131.68Z" fill="none" stroke="#2a2a2a" stroke-width="0.55"/><ellipse cx="206" cy="122" rx="4" ry="8" fill="url(#rg)" opacity="0.4"/>
<path d="M191,108h1v1h-1zM193,108h1v1h-1zM194,108h1v1h-1zM195,108h1v1h-1zM196,108h1v1h-1zM198,108h1v1h-1zM199,108h1v1h-1zM200,108h1v1h-1zM201,108h1v1h-1zM202,108h1v1h-1zM203,108h1v1h-1zM204,108h1v1h-1zM205,108h1v1h-1zM206,108h1v1h-1zM207,108h1v1h-1zM208,108h1v1h-1zM209,108h1v1h-1zM210,108h1v1h-1zM189,109h1v1h-1zM190,109h1v1h-1zM192,109h1v1h-1zM193,109h1v1h-1zM194,109h1v1h-1zM195,109h1v1h-1zM196,109h1v1h-1zM197,109h1v1h-1zM198,109h1v1h-1zM199,109h1v1h-1zM200,109h1v1h-1zM201,109h1v1h-1zM202,109h1v1h-1zM203,109h1v1h-1zM204,109h1v1h-1zM205,109h1v1h-1zM206,109h1v1h-1zM207,109h1v1h-1zM208,109h1v1h-1zM209,109h1v1h-1zM210,109h1v1h-1zM214,109h1v1h-1zM188,110h1v1h-1zM191,110h1v1h-1zM192,110h1v1h-1zM194,110h1v1h-1zM195,110h1v1h-1zM196,110h1v1h-1zM198,110h1v1h-1zM199,110h1v1h-1zM208,110h1v1h-1zM209,110h1v1h-1zM210,110h1v1h-1zM211,110h1v1h-1zM213,110h1v1h-1zM214,110h1v1h-1zM188,111h1v1h-1zM189,111h1v1h-1zM190,111h1v1h-1zM191,111h1v1h-1zM192,111h1v1h-1zM194,111h1v1h-1zM195,111h1v1h-1zM196,111h1v1h-1zM210,111h1v1h-1zM188,112h1v1h-1zM190,112h1v1h-1zM191,112h1v1h-1zM192,112h1v1h-1zM194,112h1v1h-1zM195,112h1v1h-1zM210,112h1v1h-1zM211,112h1v1h-1zM212,112h1v1h-1zM213,112h1v1h-1zM214,112h1v1h-1zM188,113h1v1h-1zM190,113h1v1h-1zM191,113h1v1h-1zM192,113h1v1h-1zM193,113h1v1h-1zM194,113h1v1h-1zM195,113h1v1h-1zM212,113h1v1h-1zM214,113h1v1h-1zM188,114h1v1h-1zM189,114h1v1h-1zM190,114h1v1h-1zM191,114h1v1h-1zM192,114h1v1h-1zM211,114h1v1h-1zM190,115h1v1h-1zM191,115h1v1h-1zM192,115h1v1h-1zM193,115h1v1h-1zM194,115h1v1h-1zM212,115h1v1h-1zM185,116h1v1h-1zM187,116h1v1h-1zM188,116h1v1h-1zM189,116h1v1h-1zM190,116h1v1h-1zM192,116h1v1h-1zM186,117h1v1h-1zM187,117h1v1h-1zM189,117h1v1h-1zM190,117h1v1h-1zM192,117h1v1h-1zM214,117h1v1h-1zM186,118h1v1h-1zM187,118h1v1h-1zM189,118h1v1h-1zM190,118h1v1h-1zM191,118h1v1h-1zM183,119h1v1h-1zM184,119h1v1h-1zM185,119h1v1h-1zM186,119h1v1h-1zM187,119h1v1h-1zM188,119h1v1h-1zM189,119h1v1h-1zM191,119h1v1h-1zM211,119h1v1h-1zM184,120h1v1h-1zM185,120h1v1h-1zM186,120h1v1h-1zM187,120h1v1h-1zM188,120h1v1h-1zM189,120h1v1h-1zM190,120h1v1h-1zM184,121h1v1h-1zM185,121h1v1h-1zM186,121h1v1h-1zM187,121h1v1h-1zM188,121h1v1h-1zM189,121h1v1h-1zM190,121h1v1h-1zM212,121h1v1h-1zM183,122h1v1h-1zM184,122h1v1h-1zM185,122h1v1h-1zM186,122h1v1h-1zM187,122h1v1h-1zM188,122h1v1h-1zM211,122h1v1h-1zM213,122h1v1h-1zM183,123h1v1h-1zM184,123h1v1h-1zM185,123h1v1h-1zM187,123h1v1h-1zM188,123h1v1h-1zM184,124h1v1h-1zM185,124h1v1h-1zM186,124h1v1h-1zM188,124h1v1h-1zM211,124h1v1h-1zM212,124h1v1h-1zM214,124h1v1h-1zM183,125h1v1h-1zM184,125h1v1h-1zM185,125h1v1h-1zM186,125h1v1h-1zM187,125h1v1h-1zM213,125h1v1h-1zM183,126h1v1h-1zM184,126h1v1h-1zM185,126h1v1h-1zM186,126h1v1h-1zM187,126h1v1h-1zM212,126h1v1h-1zM214,126h1v1h-1zM183,127h1v1h-1zM184,127h1v1h-1zM185,127h1v1h-1zM186,127h1v1h-1zM187,127h1v1h-1zM214,127h1v1h-1zM183,128h1v1h-1zM184,128h1v1h-1zM185,128h1v1h-1zM186,128h1v1h-1zM211,128h1v1h-1zM183,129h1v1h-1zM184,129h1v1h-1zM186,129h1v1h-1zM188,129h1v1h-1zM211,129h1v1h-1zM183,130h1v1h-1zM184,130h1v1h-1zM185,130h1v1h-1zM186,130h1v1h-1zM187,130h1v1h-1zM188,130h1v1h-1zM211,130h1v1h-1zM212,130h1v1h-1zM185,131h1v1h-1zM186,131h1v1h-1zM188,131h1v1h-1zM189,131h1v1h-1zM184,132h1v1h-1zM186,132h1v1h-1zM187,132h1v1h-1zM188,132h1v1h-1zM189,132h1v1h-1zM211,132h1v1h-1zM212,132h1v1h-1zM214,132h1v1h-1zM183,133h1v1h-1zM184,133h1v1h-1zM185,133h1v1h-1zM186,133h1v1h-1zM187,133h1v1h-1zM188,133h1v1h-1zM189,133h1v1h-1zM190,133h1v1h-1zM212,133h1v1h-1zM183,134h1v1h-1zM185,134h1v1h-1zM186,134h1v1h-1zM187,134h1v1h-1zM188,134h1v1h-1zM189,134h1v1h-1zM190,134h1v1h-1zM214,134h1v1h-1zM183,135h1v1h-1zM185,135h1v1h-1zM186,135h1v1h-1zM187,135h1v1h-1zM191,135h1v1h-1zM212,135h1v1h-1zM213,135h1v1h-1zM183,136h1v1h-1zM185,136h1v1h-1zM186,136h1v1h-1zM187,136h1v1h-1zM188,136h1v1h-1zM189,136h1v1h-1zM190,136h1v1h-1zM191,136h1v1h-1zM211,136h1v1h-1zM212,136h1v1h-1zM185,137h1v1h-1zM186,137h1v1h-1zM187,137h1v1h-1zM188,137h1v1h-1zM189,137h1v1h-1zM190,137h1v1h-1zM191,137h1v1h-1zM192,137h1v1h-1zM186,138h1v1h-1zM187,138h1v1h-1zM189,138h1v1h-1zM190,138h1v1h-1zM191,138h1v1h-1zM192,138h1v1h-1zM193,138h1v1h-1zM212,138h1v1h-1zM186,139h1v1h-1zM188,139h1v1h-1zM189,139h1v1h-1zM191,139h1v1h-1zM192,139h1v1h-1zM211,139h1v1h-1zM212,139h1v1h-1zM213,139h1v1h-1zM183,140h1v1h-1zM186,140h1v1h-1zM188,140h1v1h-1zM189,140h1v1h-1zM191,140h1v1h-1zM192,140h1v1h-1zM193,140h1v1h-1zM211,140h1v1h-1zM184,141h1v1h-1zM186,141h1v1h-1zM188,141h1v1h-1zM189,141h1v1h-1zM190,141h1v1h-1zM191,141h1v1h-1zM192,141h1v1h-1zM193,141h1v1h-1zM194,141h1v1h-1zM195,141h1v1h-1zM211,141h1v1h-1zM188,142h1v1h-1zM190,142h1v1h-1zM191,142h1v1h-1zM192,142h1v1h-1zM193,142h1v1h-1zM194,142h1v1h-1zM195,142h1v1h-1zM196,142h1v1h-1zM211,142h1v1h-1zM213,142h1v1h-1zM214,142h1v1h-1zM190,143h1v1h-1zM191,143h1v1h-1zM193,143h1v1h-1zM195,143h1v1h-1zM196,143h1v1h-1zM211,143h1v1h-1zM212,143h1v1h-1zM189,144h1v1h-1zM191,144h1v1h-1zM192,144h1v1h-1zM193,144h1v1h-1zM194,144h1v1h-1zM196,144h1v1h-1zM197,144h1v1h-1zM189,145h1v1h-1zM191,145h1v1h-1zM192,145h1v1h-1zM194,145h1v1h-1zM195,145h1v1h-1zM196,145h1v1h-1zM198,145h1v1h-1zM211,145h1v1h-1z" fill="#111"/>
<path d="M206,116h1v1h-1zM206,117h1v1h-1zM203,118h1v1h-1zM206,118h1v1h-1zM206,119h1v1h-1zM207,119h1v1h-1zM204,120h1v1h-1zM205,120h1v1h-1zM208,120h1v1h-1zM205,121h1v1h-1zM208,121h1v1h-1zM205,122h1v1h-1zM207,122h1v1h-1zM203,123h1v1h-1zM206,126h1v1h-1z" fill="#444"/>
</g>
<path d="M204,106h1v1h-1zM206,102h1v1h-1zM205,100h1v1h-1zM205,99h1v1h-1zM200,97h1v1h-1zM199,100h1v1h-1zM205,104h1v1h-1zM205,100h1v1h-1zM205,100h1v1h-1zM196,102h1v1h-1z" fill="#333"/>
<clipPath id="cp15"><rect x="223.5" y="106.3" width="36.0" height="39.500000000000014"/></clipPath><g clip-path="url(#cp15)">
<path d="M233.50,146.00C228.95,144.67 230.50,140.83 229.50,138.00C228.50,135.17 227.83,132.17 227.50,129.00C227.17,125.83 227.17,121.58 227.50,119.00C227.83,116.42 228.25,114.95 229.50,113.50C230.75,112.05 232.75,110.97 235.00,110.30C237.25,109.63 240.50,109.58 243.00,109.50C245.50,109.42 248.08,109.47 250.00,109.80C251.92,110.13 253.42,110.47 254.50,111.50C255.58,112.53 256.08,113.25 256.50,116.00C256.92,118.75 256.95,123.00 257.00,128.00C257.05,133.00 260.72,143.00 256.80,146.00C252.88,149.00 238.05,147.33 233.50,146.00Z" fill="#fff" stroke="#999" stroke-width="0.5"/><path d="M237.57,143.23C234.02,142.07 235.23,138.74 234.45,136.28C233.67,133.82 233.15,131.22 232.89,128.47C232.63,125.72 232.63,122.03 232.89,119.79C233.15,117.55 233.47,116.28 234.45,115.02C235.42,113.76 236.99,112.82 238.74,112.24C240.50,111.66 243.03,111.62 244.98,111.55C246.93,111.47 248.94,111.52 250.44,111.81C251.94,112.10 253.10,112.39 253.95,113.28C254.79,114.18 255.19,114.80 255.51,117.19C255.83,119.58 255.86,123.26 255.90,127.60C255.94,131.94 258.80,140.62 255.74,143.23C252.69,145.83 241.12,144.39 237.57,143.23Z" fill="none" stroke="#2a2a2a" stroke-width="0.55"/><path d="M239.79,141.72C236.79,140.65 237.81,137.60 237.15,135.35C236.49,133.09 236.05,130.70 235.83,128.18C235.61,125.66 235.61,122.28 235.83,120.22C236.05,118.17 236.32,117.00 237.15,115.85C237.98,114.69 239.30,113.83 240.78,113.30C242.26,112.77 244.41,112.73 246.06,112.66C247.71,112.60 249.42,112.64 250.68,112.90C251.94,113.17 252.94,113.43 253.65,114.25C254.37,115.08 254.69,115.65 254.97,117.84C255.25,120.03 255.27,123.41 255.30,127.39C255.33,131.37 257.75,139.33 255.17,141.72C252.58,144.10 242.79,142.78 239.79,141.72Z" fill="none" stroke="#2a2a2a" stroke-width="0.55"/><path d="M241.82,140.33C239.32,139.36 240.18,136.56 239.62,134.49C239.07,132.42 238.71,130.23 238.53,127.92C238.34,125.61 238.34,122.51 238.53,120.62C238.71,118.73 238.94,117.66 239.62,116.61C240.31,115.55 241.41,114.76 242.65,114.27C243.89,113.78 245.68,113.75 247.05,113.69C248.43,113.62 249.85,113.66 250.90,113.90C251.95,114.15 252.78,114.39 253.38,115.14C253.97,115.90 254.25,116.42 254.47,118.43C254.70,120.44 254.72,123.54 254.75,127.19C254.78,130.84 256.79,138.14 254.64,140.33C252.49,142.52 244.33,141.30 241.82,140.33Z" fill="none" stroke="#2a2a2a" stroke-width="0.55"/><path d="M243.68,139.07C241.63,138.18 242.32,135.61 241.88,133.71C241.43,131.81 241.12,129.80 240.97,127.68C240.82,125.56 240.82,122.71 240.97,120.98C241.12,119.25 241.31,118.27 241.88,117.30C242.44,116.32 243.34,115.60 244.35,115.15C245.36,114.70 246.82,114.67 247.95,114.62C249.07,114.56 250.24,114.59 251.10,114.82C251.96,115.04 252.64,115.26 253.12,115.95C253.61,116.65 253.84,117.13 254.03,118.97C254.21,120.81 254.23,123.66 254.25,127.01C254.27,130.36 255.92,137.06 254.16,139.07C252.40,141.08 245.72,139.96 243.68,139.07Z" fill="none" stroke="#2a2a2a" stroke-width="0.55"/><path d="M245.34,137.94C243.70,137.11 244.26,134.75 243.90,133.01C243.54,131.26 243.30,129.41 243.18,127.46C243.06,125.51 243.06,122.90 243.18,121.30C243.30,119.71 243.45,118.81 243.90,117.92C244.35,117.02 245.07,116.36 245.88,115.94C246.69,115.53 247.86,115.50 248.76,115.45C249.66,115.40 250.59,115.43 251.28,115.64C251.97,115.84 252.51,116.05 252.90,116.68C253.29,117.32 253.47,117.76 253.62,119.46C253.77,121.15 253.78,123.77 253.80,126.85C253.82,129.93 255.14,136.09 253.73,137.94C252.32,139.78 246.98,138.76 245.34,137.94Z" fill="none" stroke="#2a2a2a" stroke-width="0.55"/><path d="M247.00,136.80C245.78,136.05 246.20,133.90 245.93,132.31C245.66,130.71 245.47,129.03 245.38,127.25C245.29,125.47 245.29,123.08 245.38,121.63C245.47,120.18 245.59,119.35 245.93,118.54C246.26,117.72 246.80,117.11 247.41,116.74C248.02,116.36 248.89,116.34 249.57,116.29C250.25,116.24 250.94,116.27 251.46,116.46C251.98,116.64 252.38,116.83 252.68,117.41C252.97,117.99 253.10,118.40 253.22,119.94C253.33,121.49 253.34,123.88 253.35,126.69C253.36,129.50 254.35,135.12 253.30,136.80C252.24,138.49 248.23,137.55 247.00,136.80Z" fill="none" stroke="#2a2a2a" stroke-width="0.55"/><path d="M248.67,135.67C247.85,134.99 248.13,133.04 247.95,131.60C247.77,130.16 247.65,128.64 247.59,127.03C247.53,125.42 247.53,123.26 247.59,121.95C247.65,120.64 247.72,119.89 247.95,119.16C248.17,118.42 248.53,117.87 248.94,117.53C249.34,117.19 249.93,117.17 250.38,117.13C250.83,117.08 251.29,117.11 251.64,117.28C251.98,117.45 252.25,117.62 252.45,118.14C252.64,118.67 252.74,119.03 252.81,120.43C252.88,121.83 252.89,123.98 252.90,126.52C252.91,129.06 253.57,134.14 252.86,135.67C252.16,137.19 249.49,136.35 248.67,135.67Z" fill="none" stroke="#2a2a2a" stroke-width="0.55"/><ellipse cx="249" cy="124" rx="8" ry="15" fill="url(#rg)" opacity="0.3"/><ellipse cx="251" cy="121" rx="5" ry="9" fill="url(#rg)" opacity="0.35"/><ellipse cx="253.5" cy="123" rx="2" ry="4" fill="url(#rg)" opacity="0.7"/>
<path d="M226,108h1v1h-1zM230,108h1v1h-1zM228,109h1v1h-1zM239,109h1v1h-1zM233,110h1v1h-1zM257,110h1v1h-1zM255,111h1v1h-1zM226,113h1v1h-1zM226,120h1v1h-1zM257,136h1v1h-1zM227,138h1v1h-1z" fill="#111"/>
<path d="M249,112h1v1h-1zM250,112h1v1h-1zM250,113h1v1h-1zM248,115h1v1h-1zM251,116h1v1h-1zM247,118h1v1h-1zM253,118h1v1h-1zM246,119h1v1h-1zM248,119h1v1h-1zM253,119h1v1h-1zM246,120h1v1h-1zM247,120h1v1h-1zM252,120h1v1h-1zM254,120h1v1h-1zM252,121h1v1h-1zM250,122h1v1h-1zM252,122h1v1h-1zM249,123h1v1h-1zM250,123h1v1h-1zM251,123h1v1h-1zM248,125h1v1h-1zM250,125h1v1h-1zM251,125h1v1h-1zM248,126h1v1h-1zM247,127h1v1h-1zM249,127h1v1h-1zM250,128h1v1h-1zM252,129h1v1h-1zM250,130h1v1h-1zM251,130h1v1h-1zM249,131h1v1h-1zM251,131h1v1h-1zM253,120h1v1h-1zM252,121h1v1h-1zM253,122h1v1h-1zM253,123h1v1h-1zM254,123h1v1h-1z" fill="#444"/>
</g>
<line x1="53.3" y1="91" x2="53.3" y2="148.5" stroke="#111" stroke-width="2.2" />
<path d="M51.4,92.5 L53.3,87.5 L55.2,92.5 Z" fill="#111"/>
<line x1="52" y1="147" x2="260.4" y2="147" stroke="#111" stroke-width="2.6" />
<text transform="translate(47.7,147.4) rotate(-90)" font-size="13" fill="#111" stroke="#111" stroke-width="0.15">Tetramers</text>
<text x="144" y="161.7" font-size="13" text-anchor="start" font-weight="normal" fill="#111" stroke="#111" stroke-width="0.15">CD8</text>
<line x1="320.5" y1="12.3" x2="320.5" y2="146.3" stroke="#111" stroke-width="1.4" />
<line x1="316.9" y1="145.6" x2="320.5" y2="145.6" stroke="#111" stroke-width="1.2" />
<line x1="318.5" y1="136.17499999999998" x2="320.5" y2="136.17499999999998" stroke="#111" stroke-width="1.2" />
<line x1="318.5" y1="126.75" x2="320.5" y2="126.75" stroke="#111" stroke-width="1.2" />
<line x1="318.5" y1="117.32499999999999" x2="320.5" y2="117.32499999999999" stroke="#111" stroke-width="1.2" />
<line x1="316.9" y1="107.89999999999999" x2="320.5" y2="107.89999999999999" stroke="#111" stroke-width="1.2" />
<line x1="318.5" y1="98.475" x2="320.5" y2="98.475" stroke="#111" stroke-width="1.2" />
<line x1="318.5" y1="89.04999999999998" x2="320.5" y2="89.04999999999998" stroke="#111" stroke-width="1.2" />
<line x1="318.5" y1="79.62499999999999" x2="320.5" y2="79.62499999999999" stroke="#111" stroke-width="1.2" />
<line x1="316.9" y1="70.19999999999999" x2="320.5" y2="70.19999999999999" stroke="#111" stroke-width="1.2" />
<line x1="318.5" y1="60.77499999999999" x2="320.5" y2="60.77499999999999" stroke="#111" stroke-width="1.2" />
<line x1="318.5" y1="51.349999999999994" x2="320.5" y2="51.349999999999994" stroke="#111" stroke-width="1.2" />
<line x1="318.5" y1="41.92499999999998" x2="320.5" y2="41.92499999999998" stroke="#111" stroke-width="1.2" />
<line x1="316.9" y1="32.499999999999986" x2="320.5" y2="32.499999999999986" stroke="#111" stroke-width="1.2" />
<line x1="318.5" y1="23.07499999999999" x2="320.5" y2="23.07499999999999" stroke="#111" stroke-width="1.2" />
<line x1="316.9" y1="13.649999999999977" x2="320.5" y2="13.649999999999977" stroke="#111" stroke-width="1.2" />
<line x1="316" y1="145.7" x2="520" y2="145.7" stroke="#111" stroke-width="1.5" />
<text x="312.8" y="36.79999999999998" font-size="9.3" text-anchor="end" font-weight="normal" fill="#333" stroke="#333" stroke-width="0.15">.06</text>
<text x="312.8" y="74.49999999999999" font-size="9.3" text-anchor="end" font-weight="normal" fill="#333" stroke="#333" stroke-width="0.15">.04</text>
<text x="312.8" y="112.19999999999999" font-size="9.3" text-anchor="end" font-weight="normal" fill="#333" stroke="#333" stroke-width="0.15">.02</text>
<text x="311.4" y="149.9" font-size="9.3" text-anchor="end" font-weight="normal" fill="#333" stroke="#333" stroke-width="0.15">0</text>
<text transform="translate(295.9,134.7) rotate(-90)" font-size="13.0" fill="#111" stroke="#111" stroke-width="0.15">% MelanA<tspan font-size="9.4" dy="-3.1">+</tspan><tspan dy="3.1"> SP8</tspan></text>
<line x1="355.5" y1="72.6" x2="355.5" y2="106.0" stroke="#111" stroke-width="1.5" />
<line x1="353.3" y1="72.6" x2="357.7" y2="72.6" stroke="#111" stroke-width="1.7" />
<line x1="398.8" y1="109.8" x2="398.8" y2="133.7" stroke="#111" stroke-width="1.5" />
<line x1="396.6" y1="109.8" x2="401.0" y2="109.8" stroke="#111" stroke-width="1.7" />
<line x1="442.5" y1="94.8" x2="442.5" y2="107.6" stroke="#111" stroke-width="1.5" />
<line x1="440.3" y1="94.8" x2="444.7" y2="94.8" stroke="#111" stroke-width="1.7" />
<line x1="486.3" y1="23" x2="486.3" y2="58.3" stroke="#111" stroke-width="1.5" />
<line x1="484.1" y1="23" x2="488.5" y2="23" stroke="#111" stroke-width="1.7" />
<rect x="333.65" y="105.75" width="43.00" height="39.90" fill="#df3b35" stroke="#111" stroke-width="1.5"/>
<rect x="377.65" y="133.35" width="42.30" height="12.40" fill="#ec2a2e" stroke="#111" stroke-width="1.3"/>
<rect x="421.15" y="107.35" width="41.90" height="38.30" fill="#232323" stroke="#111" stroke-width="1.5"/>
<rect x="464.80" y="58.80" width="43.10" height="86.10" fill="#1b8fd6" stroke="#111" stroke-width="3.0"/>
<path d="M355.30,56.60L355.30,53.30M355.30,56.60L358.44,55.58M355.30,56.60L357.24,59.27M355.30,56.60L353.36,59.27M355.30,56.60L352.16,55.58" stroke="#111" stroke-width="1.7" stroke-linecap="round" fill="none"/>
<path d="M398.60,56.60L398.60,53.30M398.60,56.60L401.74,55.58M398.60,56.60L400.54,59.27M398.60,56.60L396.66,59.27M398.60,56.60L395.46,55.58" stroke="#111" stroke-width="1.7" stroke-linecap="round" fill="none"/>
<path d="M442.50,56.60L442.50,53.30M442.50,56.60L445.64,55.58M442.50,56.60L444.44,59.27M442.50,56.60L440.56,59.27M442.50,56.60L439.36,55.58" stroke="#111" stroke-width="1.7" stroke-linecap="round" fill="none"/>
<text x="342" y="163.8" font-size="13" text-anchor="start" font-weight="normal" fill="#111" stroke="#111" stroke-width="0.15">Ba-L</text>
<text x="340.3" y="177" font-size="13" text-anchor="start" font-weight="normal" fill="#111" stroke="#111" stroke-width="0.15">(n=4)</text>
<text x="378.5" y="163.8" font-size="13" text-anchor="start" font-weight="normal" fill="#111" stroke="#111" stroke-width="0.15">NL4-3</text>
<text x="386.3" y="177" font-size="13" text-anchor="start" font-weight="normal" fill="#111" stroke="#111" stroke-width="0.15">(n=3)</text>
<text x="429.8" y="163.8" font-size="13" text-anchor="start" font-weight="normal" fill="#111" stroke="#111" stroke-width="0.15">IFN<tspan font-family="Liberation Serif" font-size="14">&#945;</tspan></text>
<text x="431" y="177" font-size="13" text-anchor="start" font-weight="normal" fill="#111" stroke="#111" stroke-width="0.15">(n=5)</text>
<text x="470.8" y="163.8" font-size="13" text-anchor="start" font-weight="normal" fill="#111" stroke="#111" stroke-width="0.15">Mock</text>
<text x="476" y="177" font-size="13" text-anchor="start" font-weight="normal" fill="#111" stroke="#111" stroke-width="0.15">(n=3)</text>
<line x1="67.6" y1="240.8" x2="67.6" y2="381" stroke="#1a1a1a" stroke-width="1.3" />
<line x1="65.8" y1="371.04999999999995" x2="67.6" y2="371.04999999999995" stroke="#1a1a1a" stroke-width="1.0" />
<line x1="64.6" y1="362.4" x2="67.6" y2="362.4" stroke="#1a1a1a" stroke-width="1.0" />
<line x1="65.8" y1="353.75" x2="67.6" y2="353.75" stroke="#1a1a1a" stroke-width="1.0" />
<line x1="65.8" y1="345.09999999999997" x2="67.6" y2="345.09999999999997" stroke="#1a1a1a" stroke-width="1.0" />
<line x1="65.8" y1="336.45" x2="67.6" y2="336.45" stroke="#1a1a1a" stroke-width="1.0" />
<line x1="64.6" y1="327.79999999999995" x2="67.6" y2="327.79999999999995" stroke="#1a1a1a" stroke-width="1.0" />
<line x1="65.8" y1="319.15" x2="67.6" y2="319.15" stroke="#1a1a1a" stroke-width="1.0" />
<line x1="65.8" y1="310.5" x2="67.6" y2="310.5" stroke="#1a1a1a" stroke-width="1.0" />
<line x1="65.8" y1="301.84999999999997" x2="67.6" y2="301.84999999999997" stroke="#1a1a1a" stroke-width="1.0" />
<line x1="64.6" y1="293.2" x2="67.6" y2="293.2" stroke="#1a1a1a" stroke-width="1.0" />
<line x1="65.8" y1="284.54999999999995" x2="67.6" y2="284.54999999999995" stroke="#1a1a1a" stroke-width="1.0" />
<line x1="65.8" y1="275.9" x2="67.6" y2="275.9" stroke="#1a1a1a" stroke-width="1.0" />
<line x1="65.8" y1="267.25" x2="67.6" y2="267.25" stroke="#1a1a1a" stroke-width="1.0" />
<line x1="64.6" y1="258.59999999999997" x2="67.6" y2="258.59999999999997" stroke="#1a1a1a" stroke-width="1.0" />
<line x1="65.8" y1="249.95" x2="67.6" y2="249.95" stroke="#1a1a1a" stroke-width="1.0" />
<line x1="64.6" y1="241.29999999999995" x2="67.6" y2="241.29999999999995" stroke="#1a1a1a" stroke-width="1.0" />
<line x1="65.8" y1="380.4" x2="249.6" y2="380.4" stroke="#1a1a1a" stroke-width="1.3" />
<line x1="67.5" y1="380.4" x2="67.5" y2="382.2" stroke="#1a1a1a" stroke-width="1.0" />
<line x1="78.8" y1="380.4" x2="78.8" y2="382.2" stroke="#1a1a1a" stroke-width="1.0" />
<line x1="90.1" y1="380.4" x2="90.1" y2="383.0" stroke="#1a1a1a" stroke-width="1.0" />
<line x1="101.4" y1="380.4" x2="101.4" y2="382.2" stroke="#1a1a1a" stroke-width="1.0" />
<line x1="112.7" y1="380.4" x2="112.7" y2="382.2" stroke="#1a1a1a" stroke-width="1.0" />
<line x1="124.0" y1="380.4" x2="124.0" y2="382.2" stroke="#1a1a1a" stroke-width="1.0" />
<line x1="135.3" y1="380.4" x2="135.3" y2="383.0" stroke="#1a1a1a" stroke-width="1.0" />
<line x1="146.60000000000002" y1="380.4" x2="146.60000000000002" y2="382.2" stroke="#1a1a1a" stroke-width="1.0" />
<line x1="157.9" y1="380.4" x2="157.9" y2="382.2" stroke="#1a1a1a" stroke-width="1.0" />
<line x1="169.2" y1="380.4" x2="169.2" y2="382.2" stroke="#1a1a1a" stroke-width="1.0" />
<line x1="180.5" y1="380.4" x2="180.5" y2="383.0" stroke="#1a1a1a" stroke-width="1.0" />
<line x1="191.8" y1="380.4" x2="191.8" y2="382.2" stroke="#1a1a1a" stroke-width="1.0" />
<line x1="203.10000000000002" y1="380.4" x2="203.10000000000002" y2="382.2" stroke="#1a1a1a" stroke-width="1.0" />
<line x1="214.4" y1="380.4" x2="214.4" y2="382.2" stroke="#1a1a1a" stroke-width="1.0" />
<line x1="225.70000000000002" y1="380.4" x2="225.70000000000002" y2="383.0" stroke="#1a1a1a" stroke-width="1.0" />
<line x1="237.0" y1="380.4" x2="237.0" y2="382.2" stroke="#1a1a1a" stroke-width="1.0" />
<line x1="248.3" y1="380.4" x2="248.3" y2="382.2" stroke="#1a1a1a" stroke-width="1.0" />
<text transform="translate(90.10,391.70) scale(0.9,1)" font-size="9.6" text-anchor="middle" fill="#333" stroke="#333" stroke-width="0.15">1</text>
<text transform="translate(135.30,391.70) scale(0.9,1)" font-size="9.6" text-anchor="middle" fill="#333" stroke="#333" stroke-width="0.15">2</text>
<text transform="translate(180.50,391.70) scale(0.9,1)" font-size="9.6" text-anchor="middle" fill="#333" stroke="#333" stroke-width="0.15">3</text>
<text transform="translate(225.70,391.70) scale(0.9,1)" font-size="9.6" text-anchor="middle" fill="#333" stroke="#333" stroke-width="0.15">4</text>
<text x="63.2" y="261.49999999999994" font-size="9.2" text-anchor="end" font-weight="normal" fill="#333" stroke="#333" stroke-width="0.15">.06</text>
<text x="63.2" y="296.09999999999997" font-size="9.2" text-anchor="end" font-weight="normal" fill="#333" stroke="#333" stroke-width="0.15">.04</text>
<text x="63.2" y="330.69999999999993" font-size="9.2" text-anchor="end" font-weight="normal" fill="#333" stroke="#333" stroke-width="0.15">.02</text>
<text x="59.7" y="365.29999999999995" font-size="9.2" text-anchor="end" font-weight="normal" fill="#333" stroke="#333" stroke-width="0.15">0</text>
<text transform="translate(41.6,354.6) rotate(-90)" font-size="13.0" fill="#111" stroke="#111" stroke-width="0.15">% MelanA<tspan font-size="9.4" dy="-3.1">+</tspan><tspan dy="3.1"> SP8</tspan></text>
<line x1="68.8" y1="362.5" x2="249" y2="362.5" stroke="#111" stroke-width="2" stroke-dasharray="1.9 1.5"/>
<line x1="67.6" y1="280.7" x2="249.5" y2="369.5" stroke="#111" stroke-width="2.2" />
<text x="104.8" y="411.4" font-size="13" text-anchor="start" font-weight="normal" fill="#111" stroke="#111" stroke-width="0.15">MHC-I MFI&#160;&#160;(DP)</text>
<text x="116.8" y="425.6" font-size="13" text-anchor="start" font-weight="normal" fill="#111" stroke="#111" stroke-width="0.15">(fold change)</text>
<text x="140.6" y="252.7" font-size="11.3" fill="#111" stroke="#111" stroke-width="0.15"><tspan font-style="italic">P</tspan> = 0.002</text>
<text x="140.6" y="265.8" font-size="11.3" fill="#111" stroke="#111" stroke-width="0.15"><tspan font-style="italic">R</tspan><tspan font-size="8" dx="0.6" dy="-4.6">2</tspan><tspan dy="4.6" dx="0.4"> = 0.5</tspan></text>
<circle cx="105.1" cy="211.6" r="3.0" fill="#111"/>
<text x="114.6" y="216.2" font-size="13" text-anchor="start" font-weight="normal" fill="#111" stroke="#111" stroke-width="0.15">IFN<tspan font-family="Liberation Serif" font-size="14">&#945;</tspan></text>
<rect x="102.20" y="223.90" width="5.8" height="5.8" fill="#2288c0" stroke="#0c1a26" stroke-width="1.8"/>
<text x="114.6" y="231.5" font-size="13" text-anchor="start" font-weight="normal" fill="#111" stroke="#111" stroke-width="0.15">Mock</text>
<path d="M167.25,208.35 L175.15,208.35 L171.20,214.65 Z" fill="#dc2229"/>
<text x="180.8" y="216.2" font-size="13" text-anchor="start" font-weight="normal" fill="#111" stroke="#111" stroke-width="0.15">Ba<tspan dx="-0.6">-</tspan><tspan dx="-1.1">L</tspan></text>
<path d="M167.25,229.45 L175.15,229.45 L171.20,223.15 Z" fill="#dc2229"/>
<text x="180.8" y="231.5" font-size="13" text-anchor="start" font-weight="normal" fill="#111" stroke="#111" stroke-width="0.15">NL4-3</text>
<circle cx="88.5" cy="327.8" r="2.8" fill="#111"/>
<circle cx="138.8" cy="345.7" r="2.8" fill="#111"/>
<circle cx="167.4" cy="316.2" r="2.8" fill="#111"/>
<circle cx="167.4" cy="321.5" r="2.8" fill="#111"/>
<circle cx="173.4" cy="328.2" r="2.8" fill="#111"/>
<path d="M138.15,278.75 L146.05,278.75 L142.10,285.05 Z" fill="#dc2229"/>
<path d="M177.95,325.65 L185.85,325.65 L181.90,331.95 Z" fill="#dc2229"/>
<path d="M183.25,336.55 L191.15,336.55 L187.20,342.85 Z" fill="#dc2229"/>
<path d="M185.55,348.75 L193.45,348.75 L189.50,355.05 Z" fill="#dc2229"/>
<path d="M141.75,328.95 L149.65,328.95 L145.70,322.65 Z" fill="#dc2229"/>
<path d="M201.75,365.45 L209.65,365.45 L205.70,359.15 Z" fill="#dc2229"/>
<path d="M232.65,365.45 L240.55,365.45 L236.60,359.15 Z" fill="#dc2229"/>
<rect x="81.65" y="244.05" width="5.5" height="5.5" fill="#2a92b8" stroke="#0c1a26" stroke-width="1.8"/>
<rect x="91.65" y="290.95" width="5.5" height="5.5" fill="#2a92b8" stroke="#0c1a26" stroke-width="1.8"/>
<rect x="91.65" y="307.65" width="5.5" height="5.5" fill="#2a92b8" stroke="#0c1a26" stroke-width="1.8"/>
<line x1="344.2" y1="252.7" x2="344.2" y2="381" stroke="#1a1a1a" stroke-width="1.3" />
<line x1="342.4" y1="380.21" x2="344.2" y2="380.21" stroke="#1a1a1a" stroke-width="1.0" />
<line x1="341.2" y1="364.2" x2="344.2" y2="364.2" stroke="#1a1a1a" stroke-width="1.0" />
<line x1="342.4" y1="348.19" x2="344.2" y2="348.19" stroke="#1a1a1a" stroke-width="1.0" />
<line x1="341.2" y1="332.18" x2="344.2" y2="332.18" stroke="#1a1a1a" stroke-width="1.0" />
<line x1="342.4" y1="316.16999999999996" x2="344.2" y2="316.16999999999996" stroke="#1a1a1a" stroke-width="1.0" />
<line x1="341.2" y1="300.15999999999997" x2="344.2" y2="300.15999999999997" stroke="#1a1a1a" stroke-width="1.0" />
<line x1="342.4" y1="284.15" x2="344.2" y2="284.15" stroke="#1a1a1a" stroke-width="1.0" />
<line x1="341.2" y1="268.14" x2="344.2" y2="268.14" stroke="#1a1a1a" stroke-width="1.0" />
<line x1="341.2" y1="252.13" x2="344.2" y2="252.13" stroke="#1a1a1a" stroke-width="1.0" />
<line x1="342.5" y1="380.5" x2="511" y2="380.5" stroke="#1a1a1a" stroke-width="1.3" />
<line x1="344.0" y1="380.5" x2="344.0" y2="383.1" stroke="#1a1a1a" stroke-width="1.0" />
<line x1="354.25" y1="380.5" x2="354.25" y2="382.3" stroke="#1a1a1a" stroke-width="1.0" />
<line x1="364.5" y1="380.5" x2="364.5" y2="382.3" stroke="#1a1a1a" stroke-width="1.0" />
<line x1="374.75" y1="380.5" x2="374.75" y2="382.3" stroke="#1a1a1a" stroke-width="1.0" />
<line x1="385.0" y1="380.5" x2="385.0" y2="383.1" stroke="#1a1a1a" stroke-width="1.0" />
<line x1="395.25" y1="380.5" x2="395.25" y2="382.3" stroke="#1a1a1a" stroke-width="1.0" />
<line x1="405.5" y1="380.5" x2="405.5" y2="382.3" stroke="#1a1a1a" stroke-width="1.0" />
<line x1="415.75" y1="380.5" x2="415.75" y2="382.3" stroke="#1a1a1a" stroke-width="1.0" />
<line x1="426.0" y1="380.5" x2="426.0" y2="383.1" stroke="#1a1a1a" stroke-width="1.0" />
<line x1="436.25" y1="380.5" x2="436.25" y2="382.3" stroke="#1a1a1a" stroke-width="1.0" />
<line x1="446.5" y1="380.5" x2="446.5" y2="382.3" stroke="#1a1a1a" stroke-width="1.0" />
<line x1="456.75" y1="380.5" x2="456.75" y2="382.3" stroke="#1a1a1a" stroke-width="1.0" />
<line x1="467.0" y1="380.5" x2="467.0" y2="383.1" stroke="#1a1a1a" stroke-width="1.0" />
<line x1="477.25" y1="380.5" x2="477.25" y2="382.3" stroke="#1a1a1a" stroke-width="1.0" />
<line x1="487.5" y1="380.5" x2="487.5" y2="382.3" stroke="#1a1a1a" stroke-width="1.0" />
<line x1="497.75" y1="380.5" x2="497.75" y2="382.3" stroke="#1a1a1a" stroke-width="1.0" />
<line x1="508.00000000000006" y1="380.5" x2="508.00000000000006" y2="383.1" stroke="#1a1a1a" stroke-width="1.0" />
<text transform="translate(344.30,391.70) scale(0.9,1)" font-size="9.6" text-anchor="middle" fill="#333" stroke="#333" stroke-width="0.15">.7</text>
<text transform="translate(385.30,391.70) scale(0.9,1)" font-size="9.6" text-anchor="middle" fill="#333" stroke="#333" stroke-width="0.15">.8</text>
<text transform="translate(426.30,391.70) scale(0.9,1)" font-size="9.6" text-anchor="middle" fill="#333" stroke="#333" stroke-width="0.15">.9</text>
<text transform="translate(467.30,391.70) scale(0.9,1)" font-size="9.6" text-anchor="middle" fill="#333" stroke="#333" stroke-width="0.15">1</text>
<text transform="translate(508.30,391.70) scale(0.9,1)" font-size="9.6" text-anchor="middle" fill="#333" stroke="#333" stroke-width="0.15">1.1</text>
<text x="338.5" y="271.14" font-size="9.2" text-anchor="end" font-weight="normal" fill="#333" stroke="#333" stroke-width="0.15">.06</text>
<text x="338.5" y="303.15999999999997" font-size="9.2" text-anchor="end" font-weight="normal" fill="#333" stroke="#333" stroke-width="0.15">.04</text>
<text x="338.5" y="335.18" font-size="9.2" text-anchor="end" font-weight="normal" fill="#333" stroke="#333" stroke-width="0.15">.02</text>
<text x="335.6" y="367.2" font-size="9.2" text-anchor="end" font-weight="normal" fill="#333" stroke="#333" stroke-width="0.15">0</text>
<text transform="translate(317.3,354.6) rotate(-90)" font-size="13.0" fill="#111" stroke="#111" stroke-width="0.15">% MelanA<tspan font-size="9.4" dy="-3.1">+</tspan><tspan dy="3.1"> SP8</tspan></text>
<line x1="345.4" y1="364.4" x2="508.5" y2="364.4" stroke="#111" stroke-width="2" stroke-dasharray="1.9 1.5"/>
<line x1="344.4" y1="351.8" x2="510.2" y2="285.8" stroke="#111" stroke-width="2.0" />
<text x="382.6" y="411.8" font-size="13" text-anchor="start" font-weight="normal" fill="#111" stroke="#111" stroke-width="0.15">CD8 MdFI&#160;&#160;(SP8)</text>
<text x="396.5" y="427" font-size="13" text-anchor="start" font-weight="normal" fill="#111" stroke="#111" stroke-width="0.15">(fold change)</text>
<text x="405.8" y="254.8" font-size="11.3" fill="#111" stroke="#111" stroke-width="0.15"><tspan font-style="italic">P</tspan> = 0.01</text>
<text x="405.8" y="267.8" font-size="11.3" fill="#111" stroke="#111" stroke-width="0.15"><tspan font-style="italic">R</tspan><tspan font-size="8" dx="0.6" dy="-4.6">2</tspan><tspan dy="4.6" dx="0.4"> = 0.4</tspan></text>
<circle cx="378.6" cy="212.6" r="3.0" fill="#111"/>
<text x="388.1" y="217.2" font-size="13" text-anchor="start" font-weight="normal" fill="#111" stroke="#111" stroke-width="0.15">IFN<tspan font-family="Liberation Serif" font-size="14">&#945;</tspan></text>
<rect x="375.70" y="224.90" width="5.8" height="5.8" fill="#2288c0" stroke="#0c1a26" stroke-width="1.8"/>
<text x="388.1" y="232.5" font-size="13" text-anchor="start" font-weight="normal" fill="#111" stroke="#111" stroke-width="0.15">Mock</text>
<path d="M440.75,209.35 L448.65,209.35 L444.70,215.65 Z" fill="#dc2229"/>
<text x="454.3" y="217.2" font-size="13" text-anchor="start" font-weight="normal" fill="#111" stroke="#111" stroke-width="0.15">Ba<tspan dx="-0.6">-</tspan><tspan dx="-1.1">L</tspan></text>
<path d="M440.75,230.45 L448.65,230.45 L444.70,224.15 Z" fill="#dc2229"/>
<text x="454.3" y="232.5" font-size="13" text-anchor="start" font-weight="normal" fill="#111" stroke="#111" stroke-width="0.15">NL4-3</text>
<path d="M366.45,333.25 L374.35,333.25 L370.40,326.95 Z" fill="#dc2229"/>
<path d="M360.25,367.35 L368.15,367.35 L364.20,361.05 Z" fill="#dc2229"/>
<path d="M373.75,367.35 L381.65,367.35 L377.70,361.05 Z" fill="#dc2229"/>
<circle cx="373.6" cy="332.2" r="2.8" fill="#111"/>
<circle cx="390" cy="326.3" r="2.8" fill="#111"/>
<circle cx="394" cy="321.6" r="2.8" fill="#111"/>
<circle cx="409.3" cy="348.5" r="2.8" fill="#111"/>
<circle cx="465.8" cy="332.6" r="2.8" fill="#111"/>
<path d="M365.15,287.55 L373.05,287.55 L369.10,293.85 Z" fill="#dc2229"/>
<path d="M375.05,329.55 L382.95,329.55 L379.00,335.85 Z" fill="#dc2229"/>
<path d="M396.85,339.45 L404.75,339.45 L400.80,345.75 Z" fill="#dc2229"/>
<path d="M356.05,350.85 L363.95,350.85 L360.00,357.15 Z" fill="#dc2229"/>
<rect x="494.45" y="255.35" width="5.5" height="5.5" fill="#2a92b8" stroke="#0c1a26" stroke-width="1.8"/>
<rect x="462.15" y="298.15" width="5.5" height="5.5" fill="#2a92b8" stroke="#0c1a26" stroke-width="1.8"/>
<rect x="452.55" y="313.95" width="5.5" height="5.5" fill="#2a92b8" stroke="#0c1a26" stroke-width="1.8"/>
</svg></body></html>
